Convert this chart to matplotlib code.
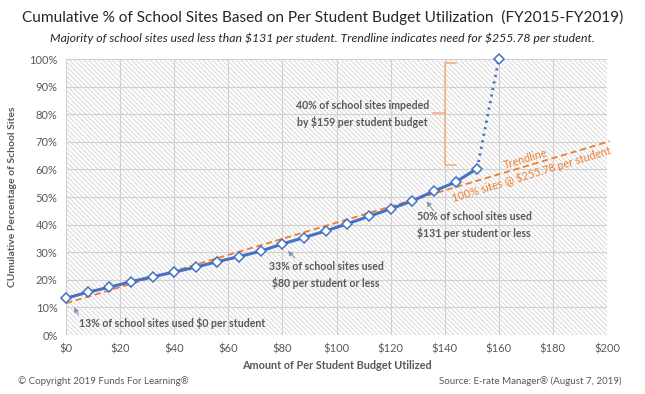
import matplotlib
matplotlib.use("Agg")
import matplotlib.pyplot as plt
from matplotlib.patches import Rectangle

plt.rcParams['font.family'] = ['Lato', 'DejaVu Sans']
plt.rcParams['hatch.linewidth'] = 0.8

# per student budget ($) and cumulative % of school sites
budget = [0, 8, 16, 24, 32, 40, 48, 56, 64, 72, 80, 88, 96, 104, 112, 120, 128, 136, 144, 152]
cum_pct = [13.3, 15.5, 17.3, 19.3, 21.1, 22.8, 24.6, 26.6, 28.4, 30.4, 33.0, 35.3, 37.7,
           40.3, 43.0, 45.7, 48.6, 52.1, 55.4, 60.3]
last_x = [152, 160]
last_y = [60.3, 100]
trend_x = [0, 201]
trend_y = [11.5, 70.2]

blue = '#4472C4'
orange = '#ED7D31'
grey_txt = '#595959'

fig = plt.figure(figsize=(6.45, 3.94), dpi=100)
ax = fig.add_axes([66 / 645, 1 - 335 / 394, 541 / 645, 276 / 394])

ax.add_patch(Rectangle((0, 0), 1, 1, transform=ax.transAxes, facecolor='white',
                       hatch='\\' * 7, edgecolor='#dcdcdc', lw=0, zorder=0))

ax.plot(trend_x, trend_y, color=orange, lw=1.3, ls=(0, (3.5, 2)), zorder=3, clip_on=False)
ax.plot(last_x, last_y, color=blue, lw=2, ls=(0, (0.8, 1.6)), zorder=4)
ax.plot(budget, cum_pct, color=blue, lw=2.2, zorder=5)
ax.plot(budget + [160], cum_pct + [100], ls='none', marker='D', ms=5, mfc='white',
        mec=blue, mew=1.1, zorder=6, clip_on=False)

ax.set_xlim(0, 200)
ax.set_ylim(0, 100)
ax.set_xticks(range(0, 201, 20))
ax.set_xticklabels([r'\$%d' % v for v in range(0, 201, 20)])
ax.set_yticks(range(0, 101, 10))
ax.set_yticklabels(['%d%%' % v for v in range(0, 101, 10)])
ax.grid(color='#d0d0d0', lw=0.8, zorder=1)
ax.set_axisbelow(True)
for s in ax.spines.values():
    s.set_visible(False)
ax.tick_params(length=0, labelsize=8, labelcolor=grey_txt, pad=6)

ax.set_xlabel('Amount of Per Student Budget Utilized', fontsize=7.8, fontweight='bold',
              color=grey_txt, labelpad=4)
ax.set_ylabel('CUmulative Percentage of School Sites', fontsize=7.5, fontweight='bold',
              color=grey_txt, labelpad=9)

# bracket
bx, top, bot, mid = 140.1, 98.4, 61.6, 80.3
ax.plot([144.2, bx, bx, 144.2], [top, top, bot, bot], color='#F4B183', lw=1.2, zorder=4)
ax.plot([135.7, bx], [mid, mid], color='#F4B183', lw=1.2, zorder=4)

note_kw = dict(fontsize=7.6, fontweight='bold', color=grey_txt, zorder=7)
ax.text(109.5, 80, '40% of school sites impeded\nby \\$159 per student budget',
        ha='center', va='center', linespacing=1.5, **note_kw)
ax.text(4.8, 4.3, '13% of school sites used \\$0 per student', ha='left', va='center', **note_kw)
ax.text(96.1, 21.7, '33% of school sites used\n\\$80 per student or less',
        ha='center', va='center', linespacing=1.5, **note_kw)
ax.text(129.8, 39.9, '50% of school sites used\n\\$131 per student or less',
        ha='left', va='center', linespacing=1.5, **note_kw)

arrow = dict(arrowstyle='-|>', color='#8497B0', lw=0.8, mutation_scale=7)
ax.annotate('', xy=(2.3, 10.9), xytext=(5.2, 6.5), arrowprops=arrow)
ax.annotate('', xy=(81.3, 31.2), xytext=(85.3, 27.2), arrowprops=arrow)
ax.annotate('', xy=(132.7, 49.3), xytext=(136.4, 44.2), arrowprops=arrow)

ax.text(169.7, 63.6, 'Trendline', color=orange, fontsize=7.8, rotation=17,
        ha='center', va='center', zorder=7)
ax.text(172, 58.4, '100% sites @ \\$255.78 per student', color=orange, fontsize=7.8,
        rotation=17, ha='center', va='center', zorder=7)

fig.text(0.5, 1 - 17 / 394, 'Cumulative % of School Sites Based on Per Student Budget Utilization  (FY2015-FY2019)',
         ha='center', va='center', fontsize=11.1, color='#262626')
fig.text(0.5, 1 - 38 / 394, 'Majority of school sites used less than \\$131 per student. Trendline indicates need for \\$255.78 per student.',
         ha='center', va='center', fontsize=8.8, style='italic', color='#262626')
fig.text(18 / 645, 1 - 381 / 394, '© Copyright 2019 Funds For Learning®', ha='left', va='center',
         fontsize=7, color=grey_txt)
fig.text(622 / 645, 1 - 381 / 394, 'Source: E-rate Manager® (August 7, 2019)', ha='right', va='center',
         fontsize=7, color=grey_txt)

fig.savefig('out.png', dpi=100, facecolor='white')
